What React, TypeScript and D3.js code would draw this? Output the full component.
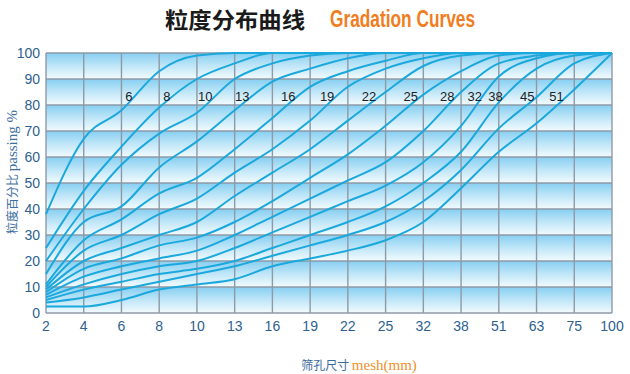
import React from "react";
import * as d3 from "d3";

const xTicks = ["2", "4", "6", "8", "10", "13", "16", "19", "22", "25", "32", "38", "51", "63", "75", "100"];
const yTicks = [0, 10, 20, 30, 40, 50, 60, 70, 80, 90, 100];
const curveNames = ["6", "8", "10", "13", "16", "19", "22", "25", "28", "32", "38", "45", "51"];

const c6 = [38, 67, 78, 93, 99, 100, 100, 100, 100, 100, 100, 100, 100, 100, 100, 100];
const c8 = [25, 47, 64, 79, 90, 96, 100, 100, 100, 100, 100, 100, 100, 100, 100, 100];
const c10 = [20, 40, 57, 69, 77, 90, 96, 99, 100, 100, 100, 100, 100, 100, 100, 100];
const c13 = [15, 35, 41, 56, 66, 78, 89, 94, 98, 100, 100, 100, 100, 100, 100, 100];
const c16 = [11, 28, 36, 46, 52, 63, 75, 87, 93, 97, 100, 100, 100, 100, 100, 100];
const c19 = [10, 24, 30, 38, 44, 54, 63, 74, 87, 94, 98, 100, 100, 100, 100, 100];
const c22 = [9, 20, 25, 30, 35, 45, 54, 63, 74, 85, 95, 99, 100, 100, 100, 100];
const c25 = [8, 17, 21, 26, 29, 35, 43, 52, 61, 72, 84, 93, 99, 100, 100, 100];
const c28 = [7, 14, 18, 21, 24, 30, 37, 44, 51, 58, 70, 85, 96, 99, 100, 100];
const c32 = [6, 11, 15, 18, 20, 25, 31, 37, 43, 49, 58, 72, 91, 98, 100, 100];
const c38 = [5, 9, 12, 15, 17, 20, 25, 30, 35, 41, 50, 62, 81, 94, 99, 100];
const c45 = [4, 6, 9, 12, 15, 18, 22, 26, 30, 35, 43, 55, 71, 83, 96, 100];
const c51 = [2.5, 2.5, 5, 9, 11, 13, 18, 21, 24, 28, 35, 48, 62, 73, 86, 100];

const seriesList = [c6, c8, c10, c13, c16, c19, c22, c25, c28, c32, c38, c45, c51];

const W = 630;
const H = 374;
const left = 46;
const right = 612;
const top = 53;
const bottom = 313;
const labelLevel = 82;

const x = d3.scalePoint<string>().domain(xTicks).range([left, right]);
const y = d3.scaleLinear().domain([0, 100]).range([bottom, top]);

const lineGen = d3
  .line<number>()
  .x((_, i) => x(xTicks[i]) as number)
  .y((d) => y(d))
  .curve(d3.curveMonotoneX);

function crossingX(vals: number[], level: number): number {
  for (let i = 0; i < vals.length - 1; i++) {
    if (vals[i] <= level && vals[i + 1] >= level) {
      const t = (level - vals[i]) / (vals[i + 1] - vals[i] || 1);
      const x0 = x(xTicks[i]) as number;
      const x1 = x(xTicks[i + 1]) as number;
      return x0 + t * (x1 - x0);
    }
  }
  return right;
}

export default function App() {
  const bands = yTicks.slice(0, -1);
  const axisColor = "#2d5f8f";
  const gridColor = "#8e9aa6";
  return (
    <svg width={W} height={H} style={{ position: "absolute", left: 0, top: 0, background: "#fff" }}>
      <defs>
        <linearGradient id="band" x1="0" y1="0" x2="0" y2="1">
          <stop offset="0" stopColor="#86cff2" />
          <stop offset="0.5" stopColor="#c0e6f8" />
          <stop offset="1" stopColor="#f3fbfe" />
        </linearGradient>
      </defs>
      <rect x={0} y={0} width={W} height={H} fill="#fff" />
      {/* Title */}
      <text x={165} y={28} fontFamily="'Noto Sans CJK SC', sans-serif" fontWeight="bold" fontSize={22} fill="#1a1a1a" textLength={140} lengthAdjust="spacingAndGlyphs">
        粒度分布曲线
      </text>
      <text x={330} y={27} fontFamily="'Liberation Sans Narrow', 'Liberation Sans', sans-serif" fontWeight="bold" fontSize={23} fill="#f07d22" textLength={145} lengthAdjust="spacingAndGlyphs">
        Gradation Curves
      </text>

      {/* Bands */}
      {bands.map((v) => (
        <rect key={v} x={left} y={y(v + 10)} width={right - left} height={y(v) - y(v + 10)} fill="url(#band)" />
      ))}

      {/* Grid */}
      {yTicks.map((v) => (
        <line key={"h" + v} x1={left} x2={right} y1={y(v)} y2={y(v)} stroke={gridColor} strokeWidth={1.4} />
      ))}
      {xTicks.map((t) => (
        <line key={"v" + t} x1={x(t)} x2={x(t)} y1={top} y2={bottom} stroke={gridColor} strokeWidth={1.4} />
      ))}

      {/* Curves */}
      {seriesList.map((vals, i) => (
        <path key={"c" + i} d={lineGen(vals) || ""} fill="none" stroke="#1ba8dc" strokeWidth={2} strokeLinejoin="round" />
      ))}

      {/* Curve labels */}
      {seriesList.map((vals, i) => (
        <text key={"l" + i} x={crossingX(vals, labelLevel) + 1} y={101} textAnchor="end" fontFamily="'Liberation Sans', Arial, sans-serif" fontSize={13} fill="#222">
          {curveNames[i]}
        </text>
      ))}

      {/* Axis ticks labels */}
      {yTicks.map((v) => (
        <text key={"yl" + v} x={40} y={y(v) + 5} textAnchor="end" fontFamily="'Liberation Sans', Arial, sans-serif" fontSize={14} fill={axisColor}>
          {v}
        </text>
      ))}
      {xTicks.map((t) => (
        <text key={"xl" + t} x={x(t)} y={331} textAnchor="middle" fontFamily="'Liberation Sans', Arial, sans-serif" fontSize={14} fill={axisColor}>
          {t}
        </text>
      ))}

      {/* Y axis title */}
      <text transform="translate(17,172) rotate(-90)" textAnchor="middle" fill="#3d6fa0">
        <tspan fontFamily="'Noto Sans CJK SC', sans-serif" fontSize={12}>粒度百分比 </tspan>
        <tspan fontFamily="'Liberation Serif', serif" fontSize={15}>passing %</tspan>
      </text>

      {/* X axis title */}
      <text x={359} y={370} textAnchor="middle">
        <tspan fontFamily="'Noto Sans CJK SC', sans-serif" fontSize={12} fill="#3d6b9a">筛孔尺寸 </tspan>
        <tspan fontFamily="'Liberation Serif', serif" fontSize={15} fill="#f0902e">mesh(mm)</tspan>
      </text>
    </svg>
  );
}
